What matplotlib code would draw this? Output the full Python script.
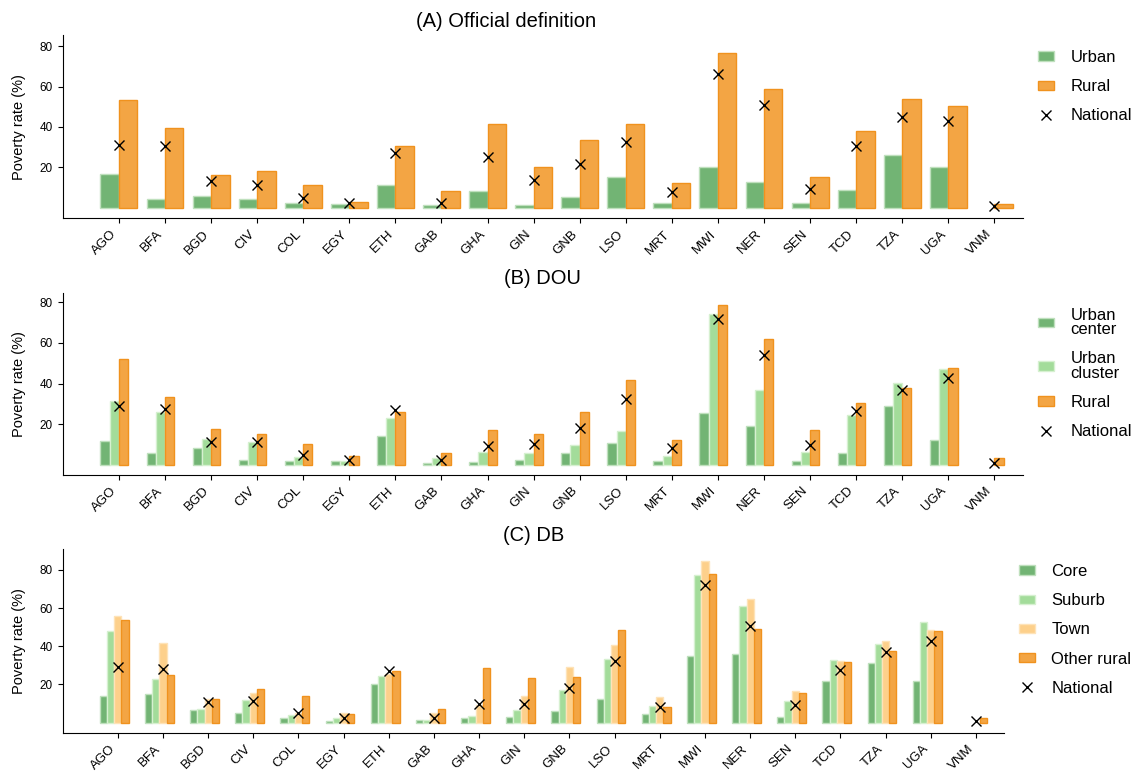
import numpy as np
import matplotlib.pyplot as plt
from matplotlib.patches import Patch
from matplotlib.lines import Line2D

plt.rcParams['font.family'] = ['Liberation Sans', 'DejaVu Sans']

countries = ['AGO', 'BFA', 'BGD', 'CIV', 'COL', 'EGY', 'ETH', 'GAB', 'GHA', 'GIN',
             'GNB', 'LSO', 'MRT', 'MWI', 'NER', 'SEN', 'TCD', 'TZA', 'UGA', 'VNM']

# (A) official definition
off_urban = [16.5, 4.5, 5.8, 4.3, 2.6, 1.8, 11.1, 1.3, 8.4, 1.5,
             5.1, 15.0, 2.5, 20.3, 12.9, 2.6, 8.9, 25.9, 20.0, 0.0]
off_rural = [53.3, 39.3, 16.0, 18.0, 11.1, 2.8, 30.4, 8.1, 41.7, 20.1,
             33.5, 41.3, 12.5, 76.4, 58.6, 15.2, 38.0, 53.8, 50.2, 1.8]
off_national = [30.9, 30.4, 13.4, 11.4, 4.8, 2.3, 26.9, 2.3, 25.1, 13.5,
                21.5, 32.3, 7.9, 66.0, 50.7, 9.1, 30.7, 44.7, 42.9, 1.0]

# (B) DOU
dou_center = [12.0, 6.1, 8.5, 2.6, 2.1, 2.1, 14.4, 1.0, 1.3, 2.3,
              5.7, 10.7, 2.1, 25.7, 19.3, 2.0, 5.7, 29.2, 12.5, 0.0]
dou_cluster = [31.3, 25.9, 13.0, 11.1, 4.1, 2.1, 23.0, 3.4, 6.4, 5.7,
               9.7, 16.9, 4.6, 74.1, 37.0, 6.2, 24.4, 40.5, 47.4, 0.0]
dou_rural = [52.3, 33.6, 17.9, 15.4, 10.5, 4.6, 26.2, 6.1, 17.4, 15.4,
             26.2, 42.0, 12.3, 78.4, 62.1, 17.4, 30.3, 38.0, 47.9, 3.3]
dou_national = [29.0, 27.5, 11.3, 11.1, 5.1, 2.6, 27.0, 2.5, 9.2, 10.3,
                18.2, 32.5, 8.2, 71.6, 54.1, 9.8, 26.7, 36.9, 42.6, 0.8]

# (C) DB
db_core = [13.8, 14.8, 6.8, 5.2, 2.5, 1.1, 20.2, 1.6, 2.3, 2.8,
           6.3, 12.6, 4.4, 34.7, 35.8, 2.8, 21.6, 31.1, 22.0, 0.0]
db_suburb = [48.0, 22.7, 7.3, 11.7, 4.0, 2.5, 24.4, 1.6, 3.5, 6.6,
             17.3, 33.2, 8.6, 77.3, 60.9, 11.2, 32.8, 41.4, 52.5, 0.0]
db_town = [55.8, 41.7, 12.4, 15.5, 5.0, 5.1, 25.5, 4.9, 9.5, 14.1,
           29.3, 40.8, 13.6, 84.8, 64.7, 16.8, 32.5, 42.9, 48.5, 0.0]
db_other = [53.8, 25.0, 12.4, 17.6, 14.2, 4.5, 27.2, 7.3, 28.6, 23.6,
            24.1, 48.5, 8.4, 78.0, 49.2, 15.7, 31.9, 37.7, 47.8, 2.4]
db_national = [29.3, 28.1, 11.0, 11.3, 5.2, 2.6, 26.9, 2.3, 9.8, 9.8,
               18.0, 32.3, 8.0, 72.1, 50.8, 9.1, 27.4, 37.2, 42.6, 0.9]

GREEN = '#72b474'
GREEN_EDGE = '#bfe0bd'
LGREEN = '#a3dc9a'
LGREEN_EDGE = '#d6f0d0'
LORANGE = '#fdd08b'
LORANGE_EDGE = '#fee3b8'
ORANGE = '#f3a544'
ORANGE_EDGE = '#f0921e'


def draw_panel(ax, series, labels, colors, edges, width, offsets, national,
               ylim, title, title_x=0.5):
    x = np.arange(len(countries))
    handles = []
    for vals, lab, c, ec, off in zip(series, labels, colors, edges, offsets):
        vals = np.asarray(vals)
        keep = vals > 0  # empty groups draw nothing
        ax.bar(x[keep] + off, vals[keep], width, color=c, edgecolor=ec, linewidth=1)
        handles.append(Patch(facecolor=c, edgecolor=ec, linewidth=1, label=lab))
    ax.plot(x, national, 'x', color='k', ms=7.5, mew=1)
    handles.append(Line2D([], [], ls='none', marker='x', color='k', ms=7.5, mew=1,
                          label='National'))

    ax.set_xlim(-1.22, 19.62)
    ax.set_ylim(*ylim)
    ax.set_yticks([20, 40, 60, 80])
    ax.set_xticks(x)
    ax.set_xticklabels(countries, rotation=45, ha='right', fontsize=9.5)
    ax.tick_params(axis='y', labelsize=8.5)
    for s in ['top', 'right']:
        ax.spines[s].set_visible(False)
    ax.set_ylabel('Poverty rate (%)', fontsize=10.5, labelpad=10)
    ax.set_title(title, fontsize=14.5, x=title_x, pad=6)

    leg = ax.legend(handles=handles, loc='upper left', bbox_to_anchor=(1, 1),
                    frameon=False, fontsize=12, handlelength=0.95,
                    handleheight=0.5, handletextpad=1.0, labelspacing=0.85)
    for t in leg.get_texts():
        t.set_linespacing(0.95)


fig = plt.figure(figsize=(11.38, 7.71), dpi=100)
axA = fig.add_axes([0.0551, 0.7169, 0.8438, 0.2377])
axB = fig.add_axes([0.0551, 0.3839, 0.8438, 0.2365])
axC = fig.add_axes([0.0551, 0.0493, 0.8271, 0.2386])

draw_panel(axA, [off_urban, off_rural], ['Urban', 'Rural'],
           [GREEN, ORANGE], [GREEN_EDGE, ORANGE_EDGE], 0.4, [-0.2, 0.2],
           off_national, (-5.2, 85.5), '(A) Official definition', title_x=0.462)

draw_panel(axB, [dou_center, dou_cluster, dou_rural],
           ['Urban\ncenter', 'Urban\ncluster', 'Rural'],
           [GREEN, LGREEN, ORANGE], [GREEN_EDGE, LGREEN_EDGE, ORANGE_EDGE],
           0.2, [-0.3, -0.1, 0.1], dou_national, (-4.9, 84.7), '(B) DOU')

draw_panel(axC, [db_core, db_suburb, db_town, db_other],
           ['Core', 'Suburb', 'Town', 'Other rural'],
           [GREEN, LGREEN, LORANGE, ORANGE],
           [GREEN_EDGE, LGREEN_EDGE, LORANGE_EDGE, ORANGE_EDGE],
           0.16, [-0.32, -0.16, 0.0, 0.16], db_national, (-5.4, 90.9), '(C) DB')

fig.savefig('out.png', dpi=100)
